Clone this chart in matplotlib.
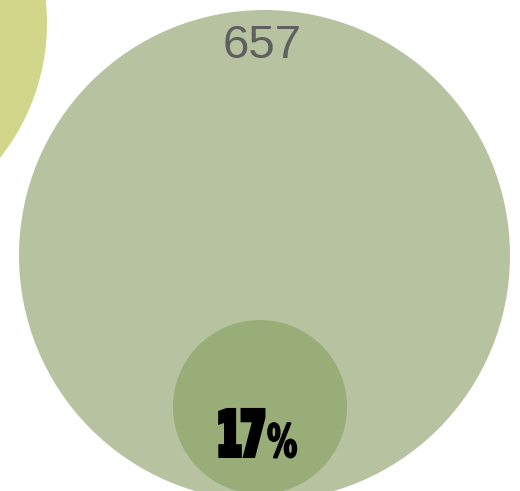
import matplotlib
matplotlib.use('Agg')
import numpy as np
from matplotlib import pyplot as plt
from matplotlib import patheffects as pe
from matplotlib.patches import Circle
from matplotlib.transforms import Affine2D

# Values shown on the chart
TOTAL = 657
SHARE = 17
LABEL_TOTAL = str(TOTAL)
LABEL_SHARE_NUM = str(SHARE)
LABEL_SHARE_PCT = '%'

W, H = 520, 491


class Squeeze(pe.AbstractPathEffect):
    """Draw text narrower (condensed look) and a bit heavier."""

    def __init__(self, x0, sx, lw=0.0):
        super().__init__()
        self.x0, self.sx, self.lw = x0, sx, lw

    def draw_path(self, renderer, gc, tpath, affine, rgbFace=None):
        aff = affine + Affine2D().translate(-self.x0, 0).scale(self.sx, 1).translate(self.x0, 0)
        gc0 = renderer.new_gc()
        gc0.copy_properties(gc)
        gc0.set_linewidth(self.lw)
        gc0.set_joinstyle('miter')
        gc0.set_foreground(rgbFace if rgbFace is not None else 'black')
        renderer.draw_path(gc0, tpath, aff, rgbFace)
        gc0.restore()


fig = plt.figure(figsize=(W / 100, H / 100), dpi=100)
ax = fig.add_axes([0, 0, 1, 1])
ax.set_xlim(0, W)
ax.set_ylim(H, 0)
ax.set_aspect('equal')
ax.axis('off')

# Neighbouring bubble, cut off at the top left
ax.add_patch(Circle((-170, 23), 217, color='#d2d68b', lw=0))
# Big bubble (total)
ax.add_patch(Circle((264.5, 255.5), 245.5, color='#b7c3a0', lw=0))
# Small bubble (share)
ax.add_patch(Circle((260, 407), 87, color='#98ad78', lw=0))

ax.text(262, 58, LABEL_TOTAL, ha='center', va='baseline', fontsize=34,
        color='#5f5f5f', family=['Liberation Sans', 'DejaVu Sans'])

x_split = 265
x0_disp = ax.transData.transform((x_split, 0))[0]
ax.text(x_split, 455, LABEL_SHARE_NUM, ha='right', va='baseline', fontsize=43.5,
        fontweight='bold', color='black', family='DejaVu Sans',
        path_effects=[Squeeze(x0_disp, 0.57, lw=4.3)])
ax.text(x_split + 2, 457, LABEL_SHARE_PCT, ha='left', va='baseline', fontsize=33,
        fontweight='bold', color='black', family='DejaVu Sans',
        path_effects=[Squeeze(x0_disp + 2, 0.66, lw=1.2)])

fig.savefig('out.png', dpi=100)
